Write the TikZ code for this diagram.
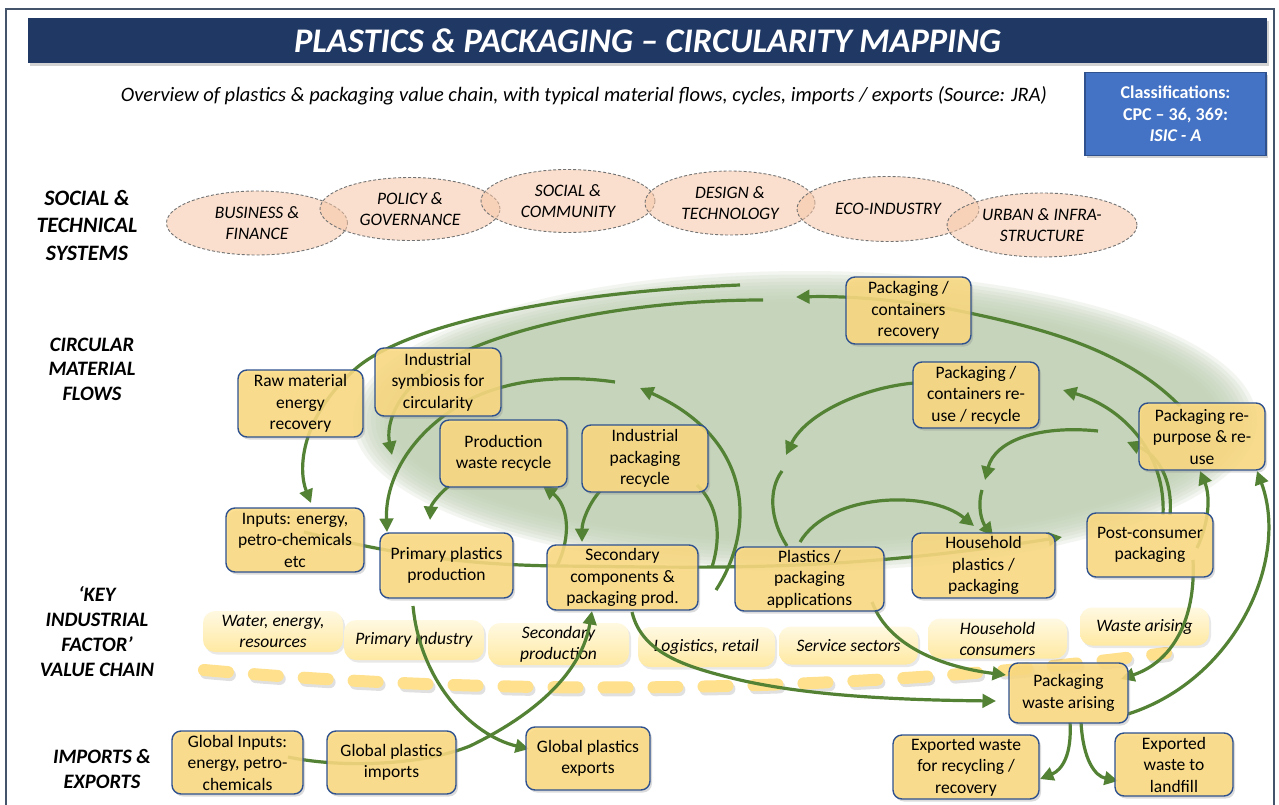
\documentclass[tikz,border=0pt]{standalone}
\usepackage{fontspec}
\setmainfont{Carlito}
\usetikzlibrary{shapes.geometric,arrows.meta,shadows,calc}
\definecolor{navy}{RGB}{32,56,100}
\definecolor{framecol}{RGB}{68,84,106}
\definecolor{boxyellow}{RGB}{253,219,128}
\definecolor{boxblue}{RGB}{47,82,143}
\definecolor{flowgreen}{RGB}{84,130,53}
\definecolor{blobgreen}{RGB}{192,209,180}
\definecolor{peach}{RGB}{246,198,166}
\definecolor{pilltop}{RGB}{255,249,226}
\definecolor{pillbot}{RGB}{255,233,162}
\definecolor{dashyellow}{RGB}{255,224,140}
\definecolor{classblue}{RGB}{68,114,196}
\tikzset{
  box/.style={draw=boxblue, line width=1.4pt, rounded corners=9pt, fill=boxyellow,
    fill opacity=0.86, text opacity=1, align=center, inner sep=0pt,
    font=\fontsize{17.5}{21.5}\selectfont,
    drop shadow={opacity=0.28, shadow xshift=2pt, shadow yshift=-2.5pt}},
  pill/.style={rounded corners=12pt, top color=pilltop, bottom color=pillbot,
    align=center, inner sep=0pt, font=\fontsize{17.5}{21}\selectfont\itshape,
    drop shadow={opacity=0.18, shadow xshift=2pt, shadow yshift=-2.5pt}},
  sysell/.style={ellipse, draw=black!55, line width=0.9pt, dash pattern=on 3pt off 2pt,
    fill=peach, fill opacity=0.55, text opacity=1, align=center, inner sep=0pt,
    font=\fontsize{17.5}{21}\selectfont\itshape},
  rowlabel/.style={align=center, font=\fontsize{20.5}{25}\selectfont\bfseries\itshape},
  flow/.style={draw=flowgreen, line width=3.2pt, -{Triangle[length=13.5pt,width=13.5pt]}},
  flowline/.style={draw=flowgreen, line width=3.2pt}
}
\begin{document}
\begin{tikzpicture}[x=1pt,y=-1pt]
\useasboundingbox (0,0) rectangle (1279,805);
\fill[white] (0,0) rectangle (1279,805);
% frame
\draw[framecol, line width=1.6pt] (6,9) rectangle (1274,830);
% title
\node[fill=navy, minimum width=1239, minimum height=45, inner sep=0pt, text=white,
  font=\fontsize{34.5}{38}\selectfont\bfseries\itshape,
  drop shadow={opacity=0.35, shadow xshift=2pt, shadow yshift=-3pt}] (title) at (647.5,40.5)
  {PLASTICS \& PACKAGING – CIRCULARITY MAPPING};
\node[font=\fontsize{20.5}{24}\selectfont\itshape, inner sep=0pt] (subtitle) at (584,96)
  {Overview of plastics \& packaging value chain, with typical material flows, cycles, imports / exports (Source: JRA)};
\node[fill=classblue, draw=boxblue, line width=1.2pt, minimum width=181, minimum height=83,
  inner sep=0pt, text=white, align=center, font=\fontsize{18}{21.5}\selectfont\bfseries,
  drop shadow={opacity=0.35, shadow xshift=2pt, shadow yshift=-3pt}] (class) at (1175.5,114)
  {Classifications:\\CPC – 36, 369:\\\textit{ISIC - A}};
% row labels
\node[rowlabel, font=\fontsize{22}{27.5}\selectfont\bfseries\itshape] (lab1) at (87,225) {SOCIAL \&\\TECHNICAL\\SYSTEMS};
\node[rowlabel, font=\fontsize{20.5}{24.5}\selectfont\bfseries\itshape] (lab2) at (92,369) {CIRCULAR\\MATERIAL\\FLOWS};
\node[rowlabel, font=\fontsize{20.5}{25}\selectfont\bfseries\itshape] (lab3) at (97,632) {‘KEY\\INDUSTRIAL\\FACTOR’\\VALUE CHAIN};
\node[rowlabel, font=\fontsize{20.5}{25}\selectfont\bfseries\itshape] (lab4) at (102,769) {IMPORTS \&\\EXPORTS};
% green blob
\foreach \i in {0,...,9} {
  \fill[blobgreen, opacity=0.2] (805,421) ellipse [x radius={452-4.5*\i}, y radius={150-3.5*\i}];
}
% system ellipses
\node[sysell, minimum width=181, minimum height=64] (e1) at (257,223) {BUSINESS \&\\FINANCE};
\node[sysell, minimum width=180, minimum height=63] (e2) at (410,209) {POLICY \&\\GOVERNANCE};
\node[sysell, minimum width=174, minimum height=63] (e3) at (568,201) {SOCIAL \&\\COMMUNITY};
\node[sysell, minimum width=170, minimum height=64] (e4) at (730,203) {DESIGN \&\\TECHNOLOGY};
\node[sysell, minimum width=182, minimum height=65] (e5) at (888,209) {ECO-INDUSTRY};
\node[sysell, minimum width=190, minimum height=64] (e6) at (1042,225) {URBAN \& INFRA-\\STRUCTURE};
% value chain dashes
\draw[black, opacity=0.12, line width=12pt, line cap=round, dash pattern=on 24pt off 26pt]
  (206,673) .. controls (452,695) and (802,703) .. (1168,656);
\draw[dashyellow, line width=12pt, line cap=round, dash pattern=on 24pt off 26pt]
  (204,670) .. controls (450,692) and (800,700) .. (1166,653);
% value chain pills
\node[pill, minimum width=140, minimum height=41] (p1) at (273,631.5) {Water, energy,\\resources};
\node[pill, minimum width=140, minimum height=40] (p2) at (414,640) {Primary industry};
\node[pill, minimum width=141, minimum height=42] (p3) at (558.5,644) {Secondary\\production};
\node[pill, minimum width=137, minimum height=40] (p4) at (706.5,647) {Logistics, retail};
\node[pill, minimum width=139, minimum height=38] (p5) at (848.5,645.5) {Service sectors};
\node[pill, minimum width=139, minimum height=40] (p6) at (997.5,638.5) {Household\\consumers};
\node[pill, minimum width=129, minimum height=38] (p7) at (1144.5,626.5) {Waste arising};
% ---- flows ----
% outer arcs
\draw[flow] (740,285) .. controls (560,292) and (400,325) .. (352,372) .. controls (300,420) and (298,470) .. (311,503);
\draw[flow] (763,300) .. controls (620,300) and (490,330) .. (430,370) .. controls (395,395) and (386,425) .. (392,455);
\draw[flow] (615,382) .. controls (560,374) and (500,380) .. (460,405) .. controls (410,435) and (385,480) .. (387,532);
% production recycling loops
\draw[flow] (557,566) .. controls (572,535) and (568,505) .. (543,486);
\draw[flow] (449,486) .. controls (438,495) and (431,505) .. (430,520);
\draw[flow] (600,491) .. controls (588,505) and (582,522) .. (582,542);
\draw[flowline] (712,567) .. controls (722,535) and (718,505) .. (697,485);
\draw[flow] (716,590) .. controls (755,530) and (755,440) .. (640,388);
% application / household loops
\draw[flowline] (787,546) .. controls (770,520) and (768,490) .. (782,471);
\draw[flow] (914,383) .. controls (860,388) and (805,415) .. (786,455);
\draw[flow] (800,542) .. controls (830,492) and (930,490) .. (974,526);
\draw[flow] (1098,431) .. controls (1040,425) and (995,440) .. (985,480);
\draw[flow] (982,490) .. controls (977,507) and (982,522) .. (993,536);
% main chain
\draw[flow] (304,532) .. controls (400,556) and (470,565) .. (560,566) .. controls (650,567) and (700,568) .. (770,566) .. controls (880,563) and (980,550) .. (1062,537);
% post-consumer loops
\draw[flow] (1163,515) .. controls (1166,455) and (1125,408) .. (1063,390);
\draw[flow] (1170,515) .. controls (1173,480) and (1158,455) .. (1127,442);
\draw[flow] (1180,406) .. controls (1120,345) and (1030,325) .. (940,307) .. controls (880,298) and (840,296) .. (796,297);
\draw[flow] (1193,560) .. controls (1196,620) and (1172,662) .. (1121,679);
\draw[flow] (1197,548) .. controls (1210,520) and (1210,495) .. (1200,471);
\draw[flow] (1128,714) .. controls (1235,680) and (1290,560) .. (1257,471);
% waste
\draw[flow] (872,602) .. controls (890,650) and (950,668) .. (1006,675);
\draw[flow] (632,612) .. controls (642,655) and (690,668) .. (740,680) .. controls (810,696) and (900,700) .. (996,701);
\draw[flow] (1070,722) .. controls (1072,755) and (1062,770) .. (1040,779);
\draw[flow] (1081,722) .. controls (1083,760) and (1095,776) .. (1118,781);
% imports / exports
\draw[flow] (413,606) .. controls (420,680) and (470,735) .. (529,749);
\draw[flow] (288,757) .. controls (340,768) and (420,766) .. (470,746) .. controls (540,712) and (582,670) .. (592,611);
% ---- boxes ----
\node[box, minimum width=125, minimum height=67] (rec) at (908.5,310.5) {Packaging /\\containers\\recovery};
\node[box, minimum width=125, minimum height=67] (raw) at (300.5,403.5) {Raw material\\energy\\recovery};
\node[box, minimum width=126, minimum height=68] (sym) at (438,382) {Industrial\\symbiosis for\\circularity};
\node[box, minimum width=127, minimum height=67] (pwr) at (503.5,453.5) {Production\\waste recycle};
\node[box, minimum width=126, minimum height=67] (ipr) at (645,458.5) {Industrial\\packaging\\recycle};
\node[box, minimum width=126, minimum height=66] (reu) at (976,395) {Packaging /\\containers re-\\use / recycle};
\node[box, minimum width=126, minimum height=67] (rep) at (1202,436.5) {Packaging re-\\purpose \& re-\\use};
\node[box, minimum width=138, minimum height=64] (inp) at (295,540) {Inputs: energy,\\petro-chemicals\\etc};
\node[box, minimum width=133, minimum height=65] (pri) at (446.5,565.5) {Primary plastics\\production};
\node[box, minimum width=151, minimum height=65] (sec) at (622.5,577.5) {Secondary\\components \&\\packaging prod.};
\node[box, minimum width=149, minimum height=64] (app) at (809.5,579) {Plastics /\\packaging\\applications};
\node[box, minimum width=143, minimum height=65] (hh) at (983.5,565.5) {Household\\plastics /\\packaging};
\node[box, minimum width=126, minimum height=64] (pc) at (1150,545) {Post-consumer\\packaging};
\node[box, minimum width=119, minimum height=60] (pwa) at (1068.5,693) {Packaging\\waste arising};
\node[box, minimum width=146, minimum height=64] (exr) at (966,767) {Exported waste\\for recycling /\\recovery};
\node[box, minimum width=118, minimum height=63] (exl) at (1174,764.5) {Exported\\waste to\\landfill};
\node[box, minimum width=131, minimum height=63] (gin) at (237.5,762.5) {Global Inputs:\\energy, petro-\\chemicals};
\node[box, minimum width=129, minimum height=63] (gim) at (391.5,762.5) {Global plastics\\imports};
\node[box, minimum width=124, minimum height=63] (gex) at (588,758.5) {Global plastics\\exports};
\end{tikzpicture}
\end{document}
